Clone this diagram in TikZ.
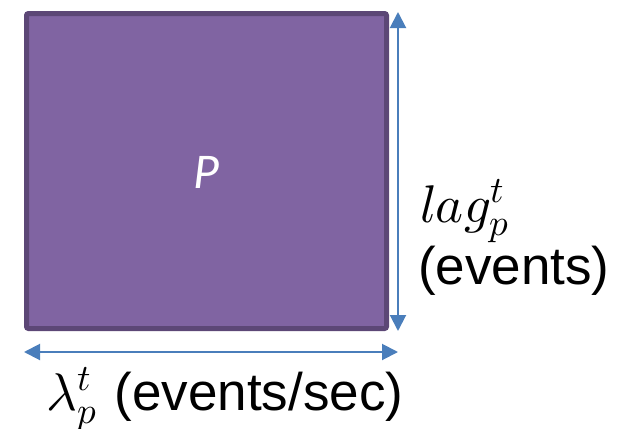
\documentclass[tikz,border=0pt]{standalone}
\usepackage{fontspec}
\usepackage{unicode-math}
\setmathfont{Latin Modern Math}
\newfontfamily\arialf{Liberation Sans}
\newfontfamily\calibf{Carlito}
\usetikzlibrary{arrows.meta}
\definecolor{boxfill}{HTML}{8064A2}
\definecolor{boxdraw}{HTML}{5C4776}
\definecolor{arrowblue}{HTML}{4A7EBB}
\tikzset{
  x=1pt,y=1pt,
  boxstyle/.style={draw=boxdraw,fill=boxfill,line width=5pt,rounded corners=2pt,minimum width=360pt,minimum height=315pt,inner sep=0pt},
  dimarrow/.style={draw=arrowblue,line width=2pt,{Triangle[length=16pt,width=16pt]}-{Triangle[length=16pt,width=16pt]}},
  lbl/.style={inner sep=0pt,anchor=base west,font=\fontsize{53}{60}\selectfont}
}
\begin{document}
\begin{tikzpicture}
\useasboundingbox (0,0) rectangle (633,-429);
\node[boxstyle] (box) at (206.5,-171) {};
\node[text=white,font=\calibf\itshape\fontsize{50}{60}\selectfont] (plabel) at (206,-172) {P};
\coordinate (vtop) at (398,-12);
\coordinate (vbot) at (398,-331);
\coordinate (hleft) at (24,-352);
\coordinate (hright) at (398,-352);
\draw[dimarrow] (vtop) -- (vbot);
\draw[dimarrow] (hleft) -- (hright);
\node[lbl] (lag) at (420,-222) {$lag_p^t$};
\node[lbl,font=\arialf\fontsize{53}{60}\selectfont] (ev) at (418,-284) {(events)};
\node[lbl,font=\arialf\fontsize{53}{60}\selectfont] (lam) at (46,-410) {$\lambda_p^t$\hspace{3pt} (events/sec)};
\end{tikzpicture}
\end{document}
